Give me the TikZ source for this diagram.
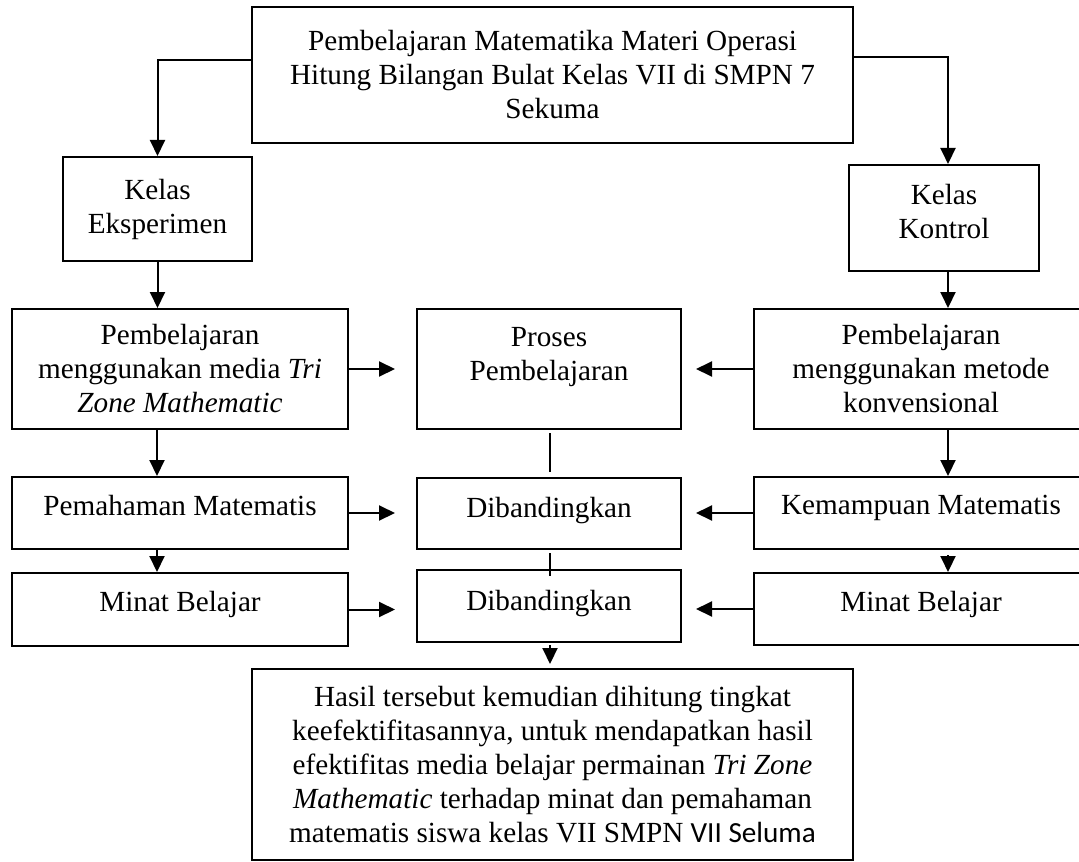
\documentclass[tikz,border=0pt]{standalone}
\usepackage{fontspec}
\setmainfont{Liberation Serif}
\newfontfamily\calibri{Carlito}
\usetikzlibrary{arrows.meta}

\tikzset{every picture/.style={line width=1pt}}
\tikzset{
  kotak/.style={draw, line width=1pt, align=center, inner sep=0pt,
    font=\fontsize{14.6}{17}\selectfont},
  sebaris/.style={text depth=8pt},
  panah/.style={-{Triangle[length=8pt,width=7.5pt]}, line width=1pt},
  garis/.style={line width=0.6pt}
}

\begin{document}
\begin{tikzpicture}[x=0.5pt,y=0.5pt,yscale=-1,xscale=1]
\useasboundingbox (0,0) rectangle (1079,861);
\clip (0,0) rectangle (1079,861);

%lanes
\coordinate (lajurKiri) at (157,0);
\coordinate (lajurKanan) at (948,0);
\coordinate (lajurTengah) at (550,0);

%Rectangle top
\node[kotak, minimum width=300.5pt, minimum height=68pt] (judul) at (552.5,75)
  {Pembelajaran Matematika Materi Operasi\\Hitung Bilangan Bulat Kelas VII di SMPN 7\\Sekuma};
%Rectangle classes
\node[kotak, minimum width=94.5pt, minimum height=52pt] (eksp) at (157.5,209)
  {Kelas\\Eksperimen};
\node[kotak, minimum width=95pt, minimum height=53pt, text depth=7pt] (kontrol) at (944,218)
  {Kelas\\Kontrol};
%Rectangle row 1
\node[kotak, minimum width=168pt, minimum height=60pt] (mediaKiri) at (180,369)
  {Pembelajaran\\menggunakan media \textit{Tri}\\\textit{Zone Mathematic}};
\node[kotak, minimum width=132pt, minimum height=60pt, text depth=15pt] (proses) at (549,369)
  {Proses\\Pembelajaran};
\node[kotak, minimum width=167.5pt, minimum height=60pt] (metodeKanan) at (921,369)
  {Pembelajaran\\menggunakan metode\\konvensional};
%Rectangle row 2
\node[kotak, sebaris, minimum width=168pt, minimum height=36pt] (pahamKiri) at (180,513)
  {Pemahaman Matematis};
\node[kotak, minimum width=132pt, minimum height=35.5pt, text depth=6pt] (banding1) at (549,513.5)
  {Dibandingkan};
\node[kotak, sebaris, minimum width=167.5pt, minimum height=36pt] (mampuKanan) at (921,513)
  {Kemampuan Matematis};
%Rectangle row 3
\node[kotak, sebaris, minimum width=168pt, minimum height=36.5pt] (minatKiri) at (180,609.5)
  {Minat Belajar};
\node[kotak, minimum width=132pt, minimum height=36pt, text depth=6pt] (banding2) at (549,606)
  {Dibandingkan};
\node[kotak, sebaris, minimum width=167.5pt, minimum height=36pt] (minatKanan) at (921,609)
  {Minat Belajar};
%Rectangle result
\node[kotak, minimum width=300.5pt, minimum height=95.5pt] (hasil) at (552.5,764.5)
  {Hasil tersebut kemudian dihitung tingkat\\keefektifitasannya, untuk mendapatkan hasil\\efektifitas media belajar permainan \textit{Tri Zone}\\\textit{Mathematic} terhadap minat dan pemahaman\\matematis siswa kelas VII SMPN {\calibri VII Seluma}};

%Straight Lines split
\draw[panah] (judul.west |- 0,60) -| (eksp);
\draw[panah] (judul.east |- 0,57) -| (kontrol.north -| lajurKanan);
%Straight Lines left column
\draw[panah] (eksp) -- (eksp |- mediaKiri.north);
\draw[panah] (mediaKiri.south -| lajurKiri) -- (pahamKiri.north -| lajurKiri);
\draw[panah] (pahamKiri.south -| lajurKiri) -- (minatKiri.north -| lajurKiri);
%Straight Lines right column
\draw[panah] (kontrol.south -| lajurKanan) -- (metodeKanan.north -| lajurKanan);
\draw[panah] (metodeKanan.south -| lajurKanan) -- (mampuKanan.north -| lajurKanan);
\draw[panah, shorten <=2.5pt] (mampuKanan.south -| lajurKanan) -- (minatKanan.north -| lajurKanan);
%Straight Lines into the middle
\draw[panah, shorten >=10.5pt] (mediaKiri) -- (proses);
\draw[panah, shorten >=10.5pt] (pahamKiri) -- (pahamKiri -| banding1.west);
\draw[panah, shorten >=10.5pt] (minatKiri) -- (minatKiri -| banding2.west);
\draw[panah, shorten >=7pt] (metodeKanan) -- (proses);
\draw[panah, shorten >=7pt] (mampuKanan) -- (mampuKanan -| banding1.east);
\draw[panah, shorten >=7pt] (minatKanan) -- (minatKanan -| banding2.east);
%Straight Lines middle column
\draw[garis, shorten <=1.5pt, shorten >=2.5pt] (proses.south -| lajurTengah) -- (banding1.north -| lajurTengah);
\draw[garis, shorten <=1.5pt] (banding1.south -| lajurTengah) -- (lajurTengah |- 0,576);
\draw[panah, shorten <=1pt, shorten >=2pt] (banding2.south -| lajurTengah) -- (hasil.north -| lajurTengah);

\end{tikzpicture}
\end{document}
